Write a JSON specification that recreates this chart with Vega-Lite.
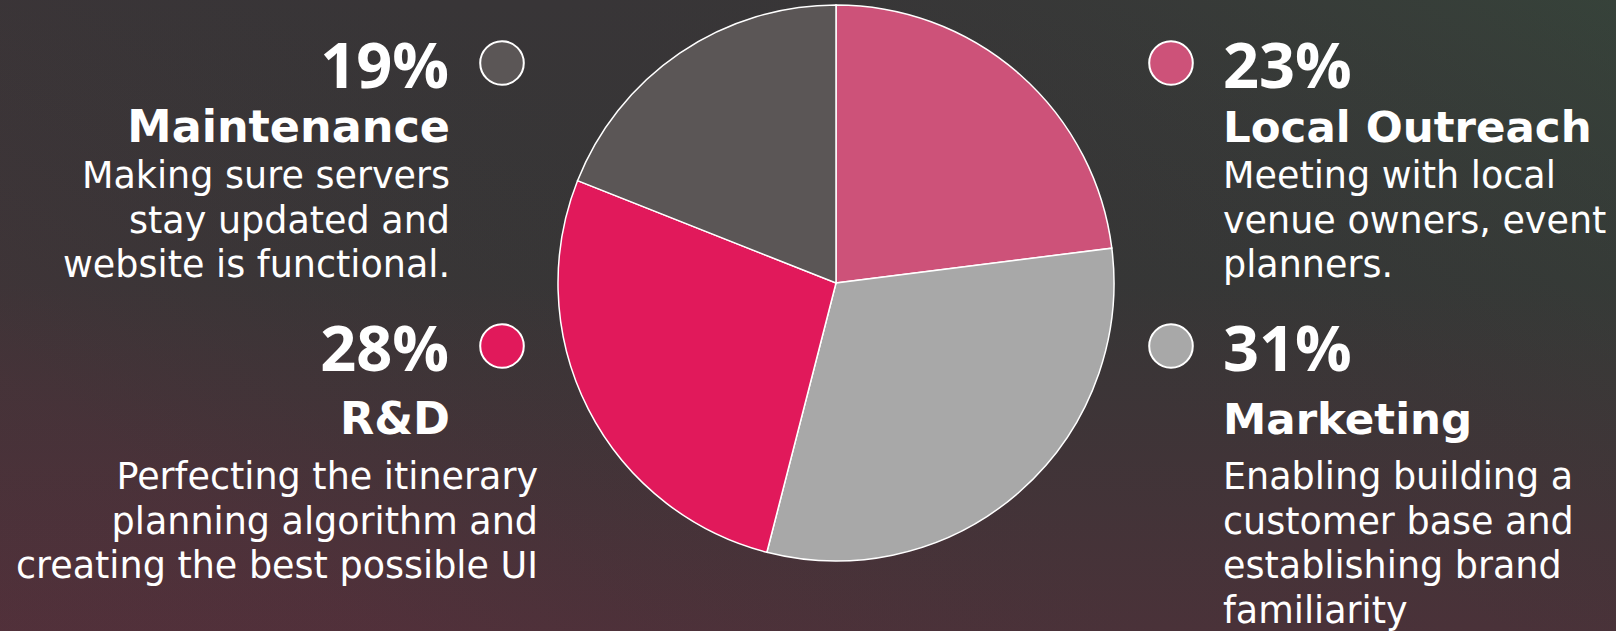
{
  "$schema": "https://vega.github.io/schema/vega-lite/v6.json",
  "width": 1616,
  "height": 631,
  "autosize": {"type": "fit", "contains": "padding"},
  "padding": 0,
  "background": "#363636",
  "config": {
    "view": {
      "stroke": null,
      "fill": {
        "gradient": "linear",
        "x1": 0, "y1": 0, "x2": 0, "y2": 1,
        "stops": [
          {"offset": 0, "color": "#383537"},
          {"offset": 0.45, "color": "#363636"},
          {"offset": 1, "color": "#4a3239"}
        ]
      }
    },
    "text": {"fill": "white"}
  },
  "data": {
    "values": [
      {"category": "Local Outreach", "seq": 1, "share": 23, "pct": "23%", "side": "right", "tier": "top", "desc": "Meeting with local\nvenue owners, event\nplanners."},
      {"category": "Marketing", "seq": 2, "share": 31, "pct": "31%", "side": "right", "tier": "bottom", "desc": "Enabling building a\ncustomer base and\nestablishing brand\nfamiliarity"},
      {"category": "R&D", "seq": 3, "share": 27, "pct": "28%", "side": "left", "tier": "bottom", "desc": "Perfecting the itinerary\nplanning algorithm and\ncreating the best possible UI"},
      {"category": "Maintenance", "seq": 4, "share": 19, "pct": "19%", "side": "left", "tier": "top", "desc": "Making sure servers\nstay updated and\nwebsite is functional."}
    ]
  },
  "resolve": {"scale": {"x": "independent", "y": "independent"}},
  "layer": [
    {
      "data": {"values": [{"layer": "backdrop"}]},
      "mark": {
        "type": "rect",
        "fill": {
          "gradient": "linear",
          "x1": 0, "y1": 0.6, "x2": 1, "y2": 0,
          "stops": [
            {"offset": 0, "color": "rgba(120,40,65,0.16)"},
            {"offset": 0.5, "color": "rgba(54,54,54,0)"},
            {"offset": 1, "color": "rgba(50,100,65,0.28)"}
          ]
        }
      },
      "encoding": {}
    },
    {
      "mark": {"type": "arc", "outerRadius": 278, "stroke": "white", "strokeWidth": 1.5},
      "encoding": {
        "theta": {"field": "share", "type": "quantitative", "stack": true},
        "order": {"field": "seq", "type": "quantitative"},
        "color": {
          "field": "category", "type": "nominal", "legend": null,
          "scale": {
            "domain": ["Local Outreach", "Marketing", "R&D", "Maintenance"],
            "range": ["#cd5279", "#a8a8a8", "#e1195b", "#5b5656"]
          }
        },
        "x": {"datum": "pie", "type": "nominal", "axis": null,
              "scale": {"type": "point", "domain": ["pie"], "range": [836, 836], "padding": 0}},
        "y": {"datum": "pie", "type": "nominal", "axis": null,
              "scale": {"type": "point", "domain": ["pie"], "range": [283, 283], "padding": 0}}
      }
    },
    {
      "mark": {"type": "circle", "size": 1900, "opacity": 1, "stroke": "white", "strokeWidth": 2},
      "encoding": {
        "color": {"field": "category", "type": "nominal", "legend": null},
        "x": {"field": "side", "type": "nominal", "axis": null,
              "scale": {"type": "point", "domain": ["left", "right"], "range": [502, 1171], "padding": 0}},
        "y": {"field": "tier", "type": "nominal", "axis": null,
              "scale": {"type": "point", "domain": ["top", "bottom"], "range": [63, 346], "padding": 0}}
      }
    },
    {
      "transform": [{"filter": "datum.side == 'left'"}],
      "mark": {"type": "text", "align": "right", "baseline": "alphabetic", "font": "Open Sans", "fontWeight": "bold", "fontSize": 63},
      "encoding": {
        "text": {"field": "pct"},
        "x": {"field": "side", "type": "nominal", "axis": null,
              "scale": {"type": "point", "domain": ["left", "right"], "range": [449, 1223], "padding": 0}},
        "y": {"field": "tier", "type": "nominal", "axis": null,
              "scale": {"type": "point", "domain": ["top", "bottom"], "range": [88, 371], "padding": 0}}
      }
    },
    {
      "transform": [{"filter": "datum.side == 'right'"}],
      "mark": {"type": "text", "align": "left", "baseline": "alphabetic", "font": "Open Sans", "fontWeight": "bold", "fontSize": 63},
      "encoding": {
        "text": {"field": "pct"},
        "x": {"field": "side", "type": "nominal", "axis": null,
              "scale": {"type": "point", "domain": ["left", "right"], "range": [449, 1223], "padding": 0}},
        "y": {"field": "tier", "type": "nominal", "axis": null,
              "scale": {"type": "point", "domain": ["top", "bottom"], "range": [88, 371], "padding": 0}}
      }
    },
    {
      "transform": [{"filter": "datum.side == 'left'"}],
      "mark": {"type": "text", "align": "right", "baseline": "alphabetic", "font": "DejaVu Sans", "fontWeight": "bold", "fontSize": 44.5},
      "encoding": {
        "text": {"field": "category"},
        "x": {"field": "side", "type": "nominal", "axis": null,
              "scale": {"type": "point", "domain": ["left", "right"], "range": [450, 1223], "padding": 0}},
        "y": {"field": "tier", "type": "nominal", "axis": null,
              "scale": {"type": "point", "domain": ["top", "bottom"], "range": [142, 434], "padding": 0}}
      }
    },
    {
      "transform": [{"filter": "datum.side == 'right'"}],
      "mark": {"type": "text", "align": "left", "baseline": "alphabetic", "font": "DejaVu Sans", "fontWeight": "bold", "fontSize": 43.5},
      "encoding": {
        "text": {"field": "category"},
        "x": {"field": "side", "type": "nominal", "axis": null,
              "scale": {"type": "point", "domain": ["left", "right"], "range": [450, 1223], "padding": 0}},
        "y": {"field": "tier", "type": "nominal", "axis": null,
              "scale": {"type": "point", "domain": ["top", "bottom"], "range": [142, 434], "padding": 0}}
      }
    },
    {
      "transform": [{"filter": "datum.side == 'left'"}],
      "mark": {"type": "text", "align": "right", "baseline": "alphabetic", "font": "DejaVu Sans", "fontSize": 36.5, "lineBreak": "\n", "lineHeight": 44.5},
      "encoding": {
        "text": {"field": "desc"},
        "x": {"field": "category", "type": "nominal", "axis": null,
              "scale": {"type": "point", "domain": ["Maintenance", "R&D"], "range": [450, 538], "padding": 0}},
        "y": {"field": "tier", "type": "nominal", "axis": null,
              "scale": {"type": "point", "domain": ["top", "bottom"], "range": [188, 489], "padding": 0}}
      }
    },
    {
      "transform": [{"filter": "datum.side == 'right'"}],
      "mark": {"type": "text", "align": "left", "baseline": "alphabetic", "font": "DejaVu Sans", "fontSize": 36.5, "lineBreak": "\n", "lineHeight": 44.5},
      "encoding": {
        "text": {"field": "desc"},
        "x": {"field": "side", "type": "nominal", "axis": null,
              "scale": {"type": "point", "domain": ["left", "right"], "range": [450, 1223], "padding": 0}},
        "y": {"field": "tier", "type": "nominal", "axis": null,
              "scale": {"type": "point", "domain": ["top", "bottom"], "range": [188, 489], "padding": 0}}
      }
    }
  ]
}
